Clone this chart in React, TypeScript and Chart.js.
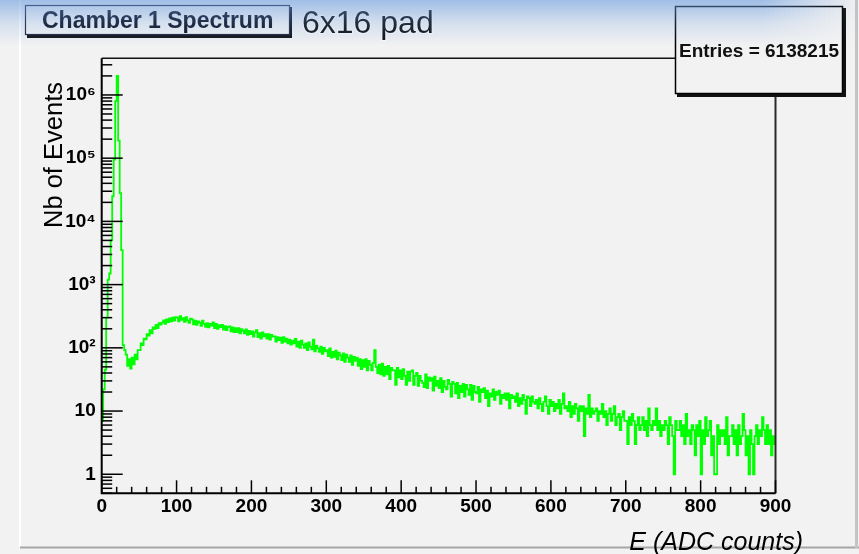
import React, { useEffect, useRef } from 'react';
import { Chart, registerables } from 'chart.js';

Chart.register(...registerables);

// ---- data -------------------------------------------------------------
const BIN_WIDTH = 2; // ADC counts per histogram bin
const X_MIN = 0;
const X_MAX = 900;
const Y_MIN = 0.5;
const Y_MAX = 3.8e6;

// E = 0 .. 28 (pedestal peak)
const peakCounts = [7, 22, 45, 300, 1200, 1500, 5000, 25000, 95000, 800000, 2000000, 190000, 28000, 3500, 110];
// E = 30 .. 98 (valley and rise of the broad bump)
const valleyCounts = [
  92, 78, 52, 66, 47, 70, 55, 78, 66, 92, 92, 118, 110, 140, 136, 165, 156, 190, 170, 210,
  200, 230, 205, 245, 232, 250, 272, 240, 282, 255, 292, 262, 300, 270, 305,
];
// E = 100 .. 198
const counts100 = [
  300, 262, 318, 276, 295, 258, 305, 270, 248, 290, 282, 236, 270, 230, 262, 250, 222, 268, 240, 215,
  246, 210, 240, 225, 252, 206, 238, 200, 228, 212, 230, 195, 220, 190, 214, 218, 182, 210, 178, 205,
  178, 205, 170, 198, 185, 170, 195, 160, 186, 165,
];
// E = 200 .. 298
const counts200 = [
  182, 150, 175, 190, 148, 170, 140, 175, 152, 165, 140, 165, 135, 160, 150, 152, 126, 148, 132, 145,
  120, 148, 126, 140, 118, 135, 112, 130, 118, 138, 105, 125, 100, 130, 112, 100, 118, 92, 122, 104,
  95, 135, 88, 108, 98, 86, 104, 80, 100, 88,
];
// E = 300 .. 398
const counts300 = [
  92, 74, 98, 70, 86, 72, 90, 66, 84, 76, 64, 82, 60, 78, 70, 60, 76, 54, 72, 62,
  70, 52, 66, 46, 64, 50, 66, 44, 62, 54, 44, 58, 92, 50, 40, 54, 38, 56, 36, 50,
  38, 52, 32, 48, 44, 44, 26, 48, 34, 44,
];
// E = 400 .. 498
const counts400 = [
  32, 46, 36, 26, 42, 30, 42, 44, 26, 36, 40, 25, 36, 30, 28, 24, 38, 23, 34, 30,
  33, 21, 35, 25, 30, 23, 33, 20, 30, 24, 22, 31, 27, 17, 29, 27, 19, 28, 16, 25,
  20, 27, 17, 26, 22, 18, 26, 15, 25, 20,
];
// E = 500 .. 598
const counts500 = [
  19, 24, 14, 22, 20, 23, 16, 21, 12, 19, 17, 22, 15, 20, 18, 21, 13, 18, 16, 19,
  15, 19, 11, 18, 16, 17, 14, 19, 12, 16, 13, 18, 15, 9, 17, 16, 12, 17, 14, 13,
  15, 11, 16, 13, 10, 14, 17, 12, 9, 15,
];
// E = 600 .. 698
const counts600 = [
  12, 14, 10, 13, 11, 15, 9, 13, 19, 11, 12, 10, 14, 8, 12, 9, 13, 11, 7, 12,
  10, 12, 4, 11, 9, 18, 8, 11, 9, 10, 11, 7, 10, 9, 13, 8, 10, 6, 9, 11,
  7, 9, 12, 6, 8, 9, 5, 8, 10, 7,
];
// E = 700 .. 798
const counts700 = [
  7, 3, 8, 6, 9, 7, 3, 6, 8, 5, 6, 8, 5, 7, 4, 11, 6, 5, 7, 6,
  11, 5, 7, 4, 6, 5, 7, 6, 3, 8, 6, 4, 1, 7, 5, 5, 7, 4, 6, 3,
  9, 4, 5, 3, 6, 5, 2, 6, 4, 7,
];
// E = 800 .. 898
const counts800 = [
  1, 5, 3, 8, 4, 5, 7, 2, 4, 1, 1, 6, 3, 5, 4, 5, 3, 8, 2, 4,
  4, 6, 3, 5, 2, 6, 3, 4, 9, 5, 2, 4, 1, 5, 3, 1, 4, 6, 3, 5,
  4, 8, 5, 3, 6, 3, 5, 2, 4, 3,
];

const yDecadeLabels = ['1', '10', '10²', '10³', '10⁴', '10⁵', '10⁶'];

const titleText = 'Chamber 1 Spectrum';
const subtitleText = '6x16 pad';
const statsText = 'Entries = 6138215';
const xTitle = 'E (ADC counts)';
const yTitle = 'Nb of Events';

const FONT = '"Liberation Sans", Arial, sans-serif';

const allCounts = [
  ...peakCounts, ...valleyCounts, ...counts100, ...counts200, ...counts300,
  ...counts400, ...counts500, ...counts600, ...counts700, ...counts800,
];

function isDecade(v: number) {
  const l = Math.log10(v);
  return Math.abs(l - Math.round(l)) < 1e-9;
}

const rootStyle = {
  id: 'rootStyle',
  beforeDraw(chart: any) {
    const { ctx, width, height } = chart;
    ctx.save();
    ctx.fillStyle = '#f2f2f2';
    ctx.fillRect(0, 0, width, height);
    // pad borders
    ctx.strokeStyle = '#ffffff';
    ctx.lineWidth = 2;
    ctx.beginPath();
    ctx.moveTo(20, 0);
    ctx.lineTo(20, 547);
    ctx.stroke();
    ctx.strokeStyle = '#a6a6a6';
    ctx.lineWidth = 2;
    ctx.beginPath();
    ctx.moveTo(20, 547.5);
    ctx.lineTo(width, 547.5);
    ctx.stroke();
    ctx.strokeStyle = '#c4c4c4';
    ctx.lineWidth = 3;
    ctx.beginPath();
    ctx.moveTo(856.5, 0);
    ctx.lineTo(856.5, 548);
    ctx.stroke();
    ctx.restore();
  },
  afterDraw(chart: any) {
    const { ctx, chartArea: a } = chart;
    const xs = chart.scales.x;
    const ys = chart.scales.y;
    ctx.save();
    // frame
    ctx.strokeStyle = '#111';
    ctx.lineWidth = 1.5;
    ctx.beginPath();
    ctx.moveTo(a.left, a.top);
    ctx.lineTo(a.right, a.top);
    ctx.stroke();
    ctx.strokeStyle = '#2a2a2a';
    ctx.lineWidth = 2;
    ctx.beginPath();
    ctx.moveTo(a.right, a.top);
    ctx.lineTo(a.right, a.bottom);
    ctx.stroke();
    ctx.strokeStyle = '#000';
    ctx.lineWidth = 2;
    ctx.beginPath();
    ctx.moveTo(a.left, a.top);
    ctx.lineTo(a.left, a.bottom);
    ctx.lineTo(a.right, a.bottom);
    ctx.stroke();

    // y ticks (inside)
    ctx.lineWidth = 1.5;
    ctx.strokeStyle = '#000';
    for (const t of ys.ticks) {
      const v = t.value;
      if (v < Y_MIN || v > Y_MAX) continue;
      const p = ys.getPixelForValue(v);
      const len = isDecade(v) ? 21 : 10.5;
      ctx.beginPath();
      ctx.moveTo(a.left, p);
      ctx.lineTo(a.left + len, p);
      ctx.stroke();
    }
    // x ticks (inside)
    for (const t of xs.ticks) {
      const v = t.value;
      const p = xs.getPixelForValue(v);
      const len = v % 100 === 0 ? 13 : 6.5;
      ctx.beginPath();
      ctx.moveTo(p, a.bottom);
      ctx.lineTo(p, a.bottom - len);
      ctx.stroke();
    }

    // axis titles
    ctx.fillStyle = '#000';
    ctx.font = `25.5px ${FONT}`;
    ctx.save();
    ctx.translate(62, 82);
    ctx.rotate(-Math.PI / 2);
    ctx.textAlign = 'right';
    ctx.textBaseline = 'alphabetic';
    ctx.fillText(yTitle, 0, 0);
    ctx.restore();
    ctx.font = `italic 25px ${FONT}`;
    ctx.textAlign = 'right';
    ctx.textBaseline = 'alphabetic';
    ctx.fillText(xTitle, 803, 550);

    // stats box
    ctx.fillStyle = '#111';
    ctx.fillRect(677, 8, 169, 89);
    ctx.fillStyle = '#f2f2f2';
    ctx.fillRect(675, 6, 168, 88);
    ctx.strokeStyle = '#000';
    ctx.lineWidth = 1.5;
    ctx.strokeRect(675.5, 6.5, 167, 87);
    ctx.fillStyle = '#111';
    ctx.font = `bold 19px ${FONT}`;
    ctx.textAlign = 'center';
    ctx.fillText(statsText, 759, 57);

    // title box
    ctx.fillStyle = '#111';
    ctx.fillRect(27, 7, 265, 31);
    ctx.fillStyle = '#f4f4f4';
    ctx.fillRect(25, 5, 265, 30);
    ctx.strokeStyle = '#1b2440';
    ctx.lineWidth = 1.2;
    ctx.strokeRect(25.5, 5.5, 264, 29);
    ctx.fillStyle = '#0a0f1e';
    ctx.font = `bold 23px ${FONT}`;
    ctx.textAlign = 'left';
    ctx.fillText(titleText, 42, 28);

    // subtitle
    ctx.font = `32px ${FONT}`;
    ctx.strokeStyle = 'rgba(255,255,255,0.8)';
    ctx.lineWidth = 2;
    ctx.strokeText(subtitleText, 302, 33);
    ctx.fillStyle = '#0d0d0d';
    ctx.fillText(subtitleText, 302, 33);

    // window gradient overlay at the top
    const g = ctx.createLinearGradient(0, 0, 0, 46);
    g.addColorStop(0, 'rgba(105,155,222,0.6)');
    g.addColorStop(0.5, 'rgba(105,155,222,0.22)');
    g.addColorStop(1, 'rgba(105,155,222,0)');
    ctx.fillStyle = g;
    ctx.fillRect(0, 0, 760, 46);
    for (let i = 0; i < 20; i++) {
      ctx.globalAlpha = 1 - i / 20;
      ctx.fillRect(760 + i * 5, 0, 5, 46);
    }
    ctx.globalAlpha = 1;
    ctx.restore();
  },
};

export default function App() {
  const ref = useRef<HTMLCanvasElement | null>(null);

  useEffect(() => {
    const canvas = ref.current;
    if (!canvas) return;
    const points = allCounts.map((c, i) => ({ x: X_MIN + i * BIN_WIDTH, y: c }));
    points.push({ x: X_MAX, y: allCounts[allCounts.length - 1] });

    const yTickValues: number[] = [];
    for (let d = -1; d <= 6; d++) {
      for (let m = 1; m <= 9; m++) {
        const v = m * Math.pow(10, d);
        if (v >= Y_MIN && v <= Y_MAX) yTickValues.push(Number(v.toPrecision(6)));
      }
    }

    const chart = new Chart(canvas, {
      type: 'line',
      data: {
        datasets: [
          {
            label: titleText,
            data: points,
            borderColor: '#00ff00',
            borderWidth: 1.8,
            pointRadius: 0,
            stepped: true,
            fill: false,
            tension: 0,
          },
        ],
      },
      options: {
        responsive: false,
        animation: false,
        devicePixelRatio: 1,
        layout: { padding: { top: 58.3, right: 83.5, left: 0, bottom: 0 } },
        plugins: {
          legend: { display: false },
          tooltip: { enabled: false },
          title: { display: false },
        },
        scales: {
          x: {
            type: 'linear',
            min: X_MIN,
            max: X_MAX,
            grid: { display: false, drawTicks: false },
            border: { display: false },
            ticks: {
              stepSize: 20,
              autoSkip: false,
              maxRotation: 0,
              padding: 2,
              color: '#000',
              font: { family: FONT, size: 19, weight: 'bold' },
              callback: (v: any) => (Number(v) % 100 === 0 ? String(v) : ''),
            },
            afterFit: (s: any) => {
              s.height = 60.7;
            },
          },
          y: {
            type: 'logarithmic',
            min: Y_MIN,
            max: Y_MAX,
            grid: { display: false, drawTicks: false },
            border: { display: false },
            afterBuildTicks: (s: any) => {
              s.ticks = yTickValues.map((v) => ({ value: v }));
            },
            ticks: {
              autoSkip: false,
              padding: 6,
              color: '#000',
              font: { family: FONT, size: 19, weight: 'bold' },
              callback: (v: any) => {
                const n = Number(v);
                if (!isDecade(n)) return '';
                const e = Math.round(Math.log10(n));
                return yDecadeLabels[e] ?? '';
              },
            },
            afterFit: (s: any) => {
              s.width = 101.7;
            },
          },
        },
      },
      plugins: [rootStyle],
    } as any);
    return () => chart.destroy();
  }, []);

  return (
    <div style={{ position: 'fixed', left: 0, top: 0, width: 859, height: 554 }}>
      <canvas ref={ref} width={859} height={554} style={{ display: 'block' }} />
    </div>
  );
}
